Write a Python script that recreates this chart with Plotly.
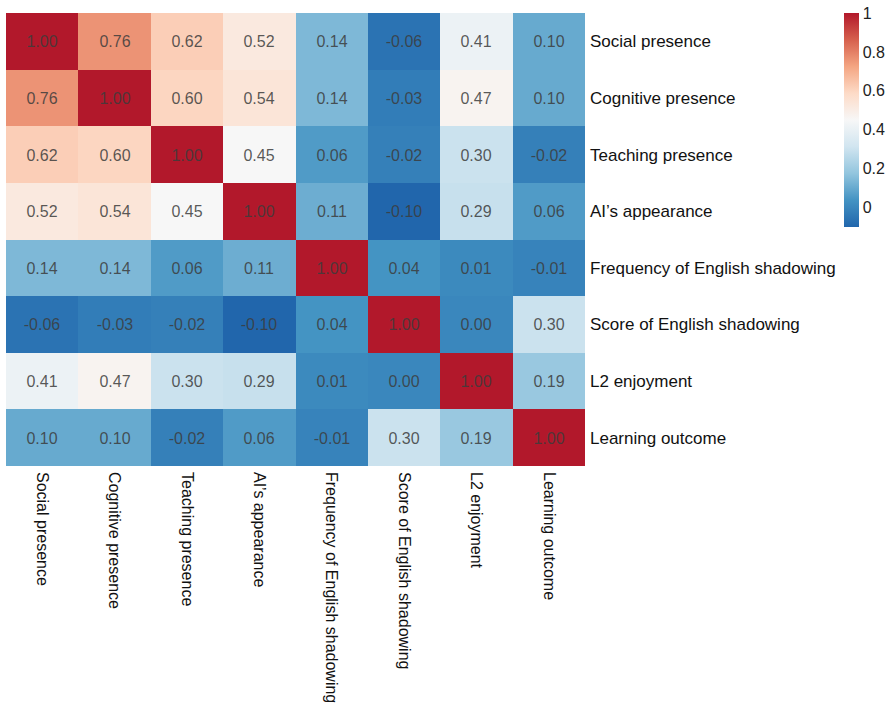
import plotly.graph_objects as go

variables = [
    "Social presence",
    "Cognitive presence",
    "Teaching presence",
    "AI\u2019s appearance",
    "Frequency of English shadowing",
    "Score of English shadowing",
    "L2 enjoyment",
    "Learning outcome",
]

corr_social = [1.00, 0.76, 0.62, 0.52, 0.14, -0.06, 0.41, 0.10]
corr_cognitive = [0.76, 1.00, 0.60, 0.54, 0.14, -0.03, 0.47, 0.10]
corr_teaching = [0.62, 0.60, 1.00, 0.45, 0.06, -0.02, 0.30, -0.02]
corr_ai = [0.52, 0.54, 0.45, 1.00, 0.11, -0.10, 0.29, 0.06]
corr_frequency = [0.14, 0.14, 0.06, 0.11, 1.00, 0.04, 0.01, -0.01]
corr_score = [-0.06, -0.03, -0.02, -0.10, 0.04, 1.00, 0.00, 0.30]
corr_enjoyment = [0.41, 0.47, 0.30, 0.29, 0.01, 0.00, 1.00, 0.19]
corr_outcome = [0.10, 0.10, -0.02, 0.06, -0.01, 0.30, 0.19, 1.00]

matrix = [corr_social, corr_cognitive, corr_teaching, corr_ai,
          corr_frequency, corr_score, corr_enjoyment, corr_outcome]

colorbar_ticks = [0, 0.2, 0.4, 0.6, 0.8, 1]

rdbu = ["#2166AC", "#4393C3", "#92C5DE", "#D1E5F0", "#F7F7F7",
        "#FDDBC7", "#F4A582", "#D6604D", "#B2182B"]
colorscale = [[i / (len(rdbu) - 1), c] for i, c in enumerate(rdbu)]

font_family = "Liberation Sans, Arial, sans-serif"

fig = go.Figure(
    go.Heatmap(
        z=matrix,
        x=variables,
        y=variables,
        zmin=-0.10,
        zmax=1.00,
        colorscale=colorscale,
        texttemplate="%{z:.2f}",
        textfont=dict(family=font_family, size=16, color="rgba(60,60,60,0.85)"),
        colorbar=dict(
            x=1.447, xanchor="left", xpad=0,
            y=1.0, yanchor="top", ypad=0,
            len=0.472, lenmode="fraction",
            thickness=15,
            outlinewidth=0,
            tickvals=colorbar_ticks,
            ticktext=[f"{v:g}" for v in colorbar_ticks],
            ticks="",
            tickfont=dict(family=font_family, size=16, color="#222"),
        ),
    )
)

fig.update_xaxes(
    tickangle=90,
    side="bottom",
    ticks="",
    showgrid=False,
    zeroline=False,
    automargin=False,
    ticklabelstandoff=5,
    tickfont=dict(family=font_family, size=16, color="#111"),
)
fig.update_yaxes(
    autorange="reversed",
    side="right",
    ticks="",
    showgrid=False,
    zeroline=False,
    automargin=False,
    ticklabelstandoff=4,
    tickfont=dict(family=font_family, size=17, color="#111"),
)

fig.update_layout(
    width=890,
    height=712,
    margin=dict(l=6, r=305, t=13, b=246, autoexpand=False),
    plot_bgcolor="white",
    paper_bgcolor="white",
)

fig.write_html("out.html")
